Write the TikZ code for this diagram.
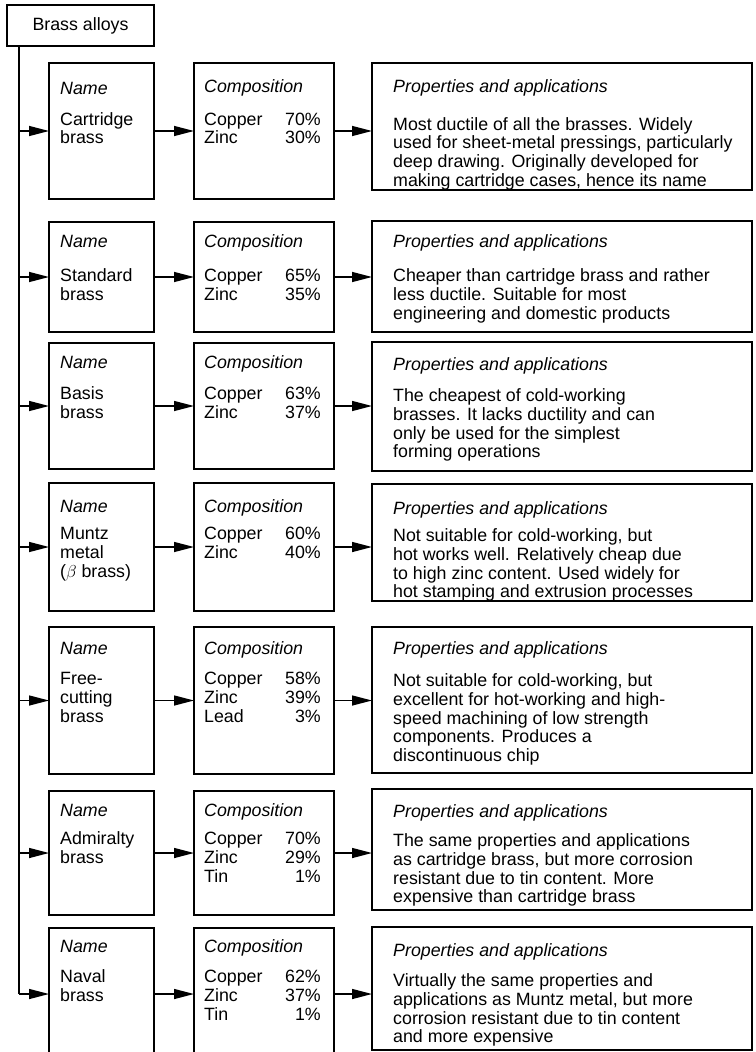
\documentclass[tikz,border=0pt]{standalone}
\usepackage{fontspec}
\setmainfont{Liberation Sans}
\usetikzlibrary{arrows.meta}
\newcommand\bodyfont{\fontsize{17.8}{18.7}\selectfont}
\begin{document}
\begin{tikzpicture}[x=1pt,y=-1pt,
  box/.style={draw, line width=2.2pt, inner sep=0pt, outer sep=0pt, anchor=north west},
  txt/.style={inner sep=0pt, anchor=north west, yshift=13.09pt, align=left, font=\bodyfont},
  rtxt/.style={inner sep=0pt, anchor=north east, yshift=13.09pt, align=right, font=\bodyfont},
  head/.style={inner sep=0pt, anchor=base west, font=\bodyfont\itshape},
  arr/.style={line width=1.4pt, -{Triangle[length=20pt,width=10pt]}},
  line/.style={line width=1.4pt}]
\useasboundingbox (0,0) rectangle (755,1052);
% top box
\node[box, minimum width=147pt, minimum height=41pt, font=\bodyfont] (top) at (7,5) {Brass alloys};
\coordinate (tr) at (19,46);
% ---------- Row 1
\node[box, minimum width=105pt, minimum height=136pt] (n1) at (49,63) {};
\node[box, minimum width=140pt, minimum height=136pt] (c1) at (194,63) {};
\node[box, minimum width=380pt, minimum height=127pt] (p1) at (372,63) {};
\node[head] (n1h) at (60,94) {Name};
\node[txt] (n1t) at (60,125) {\strut Cartridge\\brass};
\node[head] (c1h) at (204,92) {Composition};
\node[txt] (c1t) at (204,125) {\strut Copper\\Zinc};
\node[rtxt] (c1p) at (321,125) {\strut 70\%\\30\%};
\node[head] (p1h) at (393,92) {Properties and applications};
\node[txt] (p1t) at (393,130) {\strut Most ductile of all the brasses. Widely\\used for sheet-metal pressings, particularly\\deep drawing. Originally developed for\\making cartridge cases, hence its name};
% ---------- Row 2
\node[box, minimum width=105pt, minimum height=110pt] (n2) at (49,222) {};
\node[box, minimum width=140pt, minimum height=110pt] (c2) at (194,222) {};
\node[box, minimum width=380pt, minimum height=111pt] (p2) at (372,221) {};
\node[head] (n2h) at (60,247) {Name};
\node[txt] (n2t) at (60,281.5) {\strut Standard\\brass};
\node[head] (c2h) at (204,247) {Composition};
\node[txt] (c2t) at (204,281.5) {\strut Copper\\Zinc};
\node[rtxt] (c2p) at (321,281.5) {\strut 65\%\\35\%};
\node[head] (p2h) at (393,247) {Properties and applications};
\node[txt] (p2t) at (393,281.5) {\strut Cheaper than cartridge brass and rather\\less ductile. Suitable for most\\engineering and domestic products};
% ---------- Row 3
\node[box, minimum width=105pt, minimum height=126pt] (n3) at (49,343) {};
\node[box, minimum width=140pt, minimum height=126pt] (c3) at (194,343) {};
\node[box, minimum width=380pt, minimum height=129pt] (p3) at (372,342) {};
\node[head] (n3h) at (60,368.5) {Name};
\node[txt] (n3t) at (60,399.5) {\strut Basis\\brass};
\node[head] (c3h) at (204,368.5) {Composition};
\node[txt] (c3t) at (204,399.5) {\strut Copper\\Zinc};
\node[rtxt] (c3p) at (321,399.5) {\strut 63\%\\37\%};
\node[head] (p3h) at (393,370.5) {Properties and applications};
\node[txt] (p3t) at (393,401.5) {\strut The cheapest of cold-working\\brasses. It lacks ductility and can\\only be used for the simplest\\forming operations};
% ---------- Row 4
\node[box, minimum width=105pt, minimum height=128pt] (n4) at (49,483) {};
\node[box, minimum width=140pt, minimum height=128pt] (c4) at (194,483) {};
\node[box, minimum width=380pt, minimum height=117pt] (p4) at (372,484) {};
\node[head] (n4h) at (60,512.5) {Name};
\node[txt] (n4t) at (60,539.5) {\strut Muntz\\metal\\($\beta$ brass)};
\node[head] (c4h) at (204,512.5) {Composition};
\node[txt] (c4t) at (204,539.5) {\strut Copper\\Zinc};
\node[rtxt] (c4p) at (321,539.5) {\strut 60\%\\40\%};
\node[head] (p4h) at (393,514.5) {Properties and applications};
\node[txt] (p4t) at (393,541.5) {\strut Not suitable for cold-working, but\\hot works well. Relatively cheap due\\to high zinc content. Used widely for\\hot stamping and extrusion processes};
% ---------- Row 5
\node[box, minimum width=105pt, minimum height=147pt] (n5) at (49,627) {};
\node[box, minimum width=140pt, minimum height=147pt] (c5) at (194,627) {};
\node[box, minimum width=380pt, minimum height=146pt] (p5) at (372,627) {};
\node[head] (n5h) at (60,654.5) {Name};
\node[txt] (n5t) at (60,684.5) {\strut Free-\\cutting\\brass};
\node[head] (c5h) at (204,654.5) {Composition};
\node[txt] (c5t) at (204,684.5) {\strut Copper\\Zinc\\Lead};
\node[rtxt] (c5p) at (321,684.5) {\strut 58\%\\39\%\\3\%};
\node[head] (p5h) at (393,654.5) {Properties and applications};
\node[txt] (p5t) at (393,686.5) {\strut Not suitable for cold-working, but\\excellent for hot-working and high-\\speed machining of low strength\\components. Produces a\\discontinuous chip};
% ---------- Row 6
\node[box, minimum width=105pt, minimum height=124pt] (n6) at (49,791) {};
\node[box, minimum width=140pt, minimum height=124pt] (c6) at (194,791) {};
\node[box, minimum width=380pt, minimum height=121pt] (p6) at (372,789) {};
\node[head] (n6h) at (60,816.5) {Name};
\node[txt] (n6t) at (60,844.5) {\strut Admiralty\\brass};
\node[head] (c6h) at (204,816.5) {Composition};
\node[txt] (c6t) at (204,844.5) {\strut Copper\\Zinc\\Tin};
\node[rtxt] (c6p) at (321,844.5) {\strut 70\%\\29\%\\1\%};
\node[head] (p6h) at (393,817.5) {Properties and applications};
\node[txt] (p6t) at (393,846.5) {\strut The same properties and applications\\as cartridge brass, but more corrosion\\resistant due to tin content. More\\expensive than cartridge brass};
% ---------- Row 7
\node[box, minimum width=105pt, minimum height=132pt] (n7) at (49,928) {};
\node[box, minimum width=140pt, minimum height=132pt] (c7) at (194,928) {};
\node[box, minimum width=380pt, minimum height=123pt] (p7) at (372,927) {};
\node[head] (n7h) at (60,952.5) {Name};
\node[txt] (n7t) at (60,982.5) {\strut Naval\\brass};
\node[head] (c7h) at (204,952.5) {Composition};
\node[txt] (c7t) at (204,982.5) {\strut Copper\\Zinc\\Tin};
\node[rtxt] (c7p) at (321,982.5) {\strut 62\%\\37\%\\1\%};
\node[head] (p7h) at (393,956.5) {Properties and applications};
\node[txt] (p7t) at (393,986.5) {\strut Virtually the same properties and\\applications as Muntz metal, but more\\corrosion resistant due to tin content\\and more expensive};
% ---------- connectors
\draw[line] (tr) -- (tr |- n7.west);
\foreach \i in {1,...,7}{
  \draw[arr] (tr |- n\i.west) -- (n\i.west);
  \draw[arr] (n\i.east) -- (c\i.west);
  \draw[arr] (c\i.east) -- (c\i.east -| p\i.west);
}
\end{tikzpicture}
\end{document}
